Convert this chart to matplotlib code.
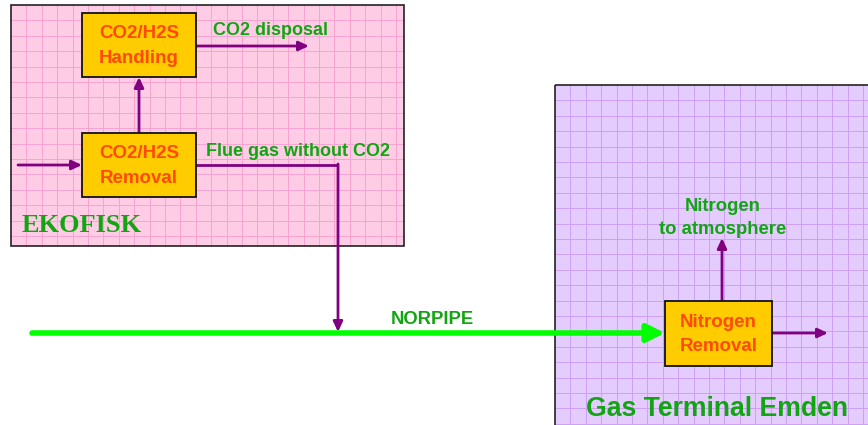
import matplotlib
matplotlib.use("Agg")
from matplotlib import pyplot as plt
from matplotlib.patches import Rectangle
import numpy as np

# texts of the flow sheet
box_labels = ["CO2/H2S\nHandling", "CO2/H2S\nRemoval", "Nitrogen\nRemoval"]
flow_labels = ["CO2 disposal", "Flue gas without CO2", "Nitrogen\nto atmosphere", "NORPIPE"]
site_labels = ["EKOFISK", "Gas Terminal Emden"]

purple = "#800080"
green_txt = "#11A611"
orange_txt = "#FF4A00"
box_fill = "#FFCC00"

fig = plt.figure(figsize=(8.68, 4.25), dpi=100)
ax = fig.add_axes([0, 0, 1, 1])
ax.set_xlim(0, 868)
ax.set_ylim(425, 0)
ax.axis("off")


def site(x0, y0, x1, y1, fill, gridc, step=15.4):
    ax.add_patch(Rectangle((x0, y0), x1 - x0, y1 - y0, facecolor=fill,
                           edgecolor="none", zorder=0))
    for gx in np.arange(x0 + step, x1, step):
        ax.plot([gx, gx], [y0, y1], color=gridc, lw=0.7, zorder=1)
    for gy in np.arange(y0 + step, y1, step):
        ax.plot([x0, x1], [gy, gy], color=gridc, lw=0.7, zorder=1)
    ax.add_patch(Rectangle((x0, y0), x1 - x0, y1 - y0, facecolor="none",
                           edgecolor="#222222", lw=1.2, zorder=2))


def box(x0, y0, x1, y1, label):
    ax.add_patch(Rectangle((x0, y0), x1 - x0, y1 - y0, facecolor=box_fill,
                           edgecolor="#111111", lw=1.3, zorder=5))
    ax.text((x0 + x1) / 2, (y0 + y1) / 2 + 1, label, ha="center", va="center",
            color=orange_txt, fontsize=13.5, fontweight="bold",
            family="Liberation Sans", linespacing=1.55, zorder=6)


def arrow(p0, p1, color=purple, lw=2, ms=8):
    ax.annotate("", xy=p1, xytext=p0, zorder=4,
                arrowprops=dict(arrowstyle="-|>,head_length=0.75,head_width=0.35",
                                color=color, lw=lw, mutation_scale=ms,
                                shrinkA=0, shrinkB=0))


# sites
site(11, 5, 404, 246, "#FFCCE6", "#F7A3D2")
site(555, 85, 880, 440, "#E5CCFF", "#CFA0F4")

# boxes
box(82, 13, 196, 77, box_labels[0])
box(82, 133, 196, 197, box_labels[1])
box(665, 301, 772, 366, box_labels[2])

# purple flows
arrow((18, 165), (82, 165))
arrow((139, 133), (139, 77))
arrow((196, 46), (309, 46))
ax.plot([196, 338], [165, 165], color=purple, lw=2, zorder=4, solid_capstyle="butt")
arrow((338, 164), (338, 332))
arrow((722, 301), (722, 238))
arrow((772, 333), (828, 333))

# NORPIPE
ax.annotate("", xy=(665, 333), xytext=(32, 333), zorder=3,
            arrowprops=dict(arrowstyle="-|>,head_length=0.7,head_width=0.35",
                            color="#00FF00", lw=4, mutation_scale=15,
                            shrinkA=0, shrinkB=0))

# labels
kw = dict(color=green_txt, fontweight="bold", family="Liberation Sans", zorder=6)
ax.text(213, 30, flow_labels[0], ha="left", va="center", fontsize=13, **kw)
ax.text(206, 151, flow_labels[1], ha="left", va="center", fontsize=13, **kw)
ax.text(723, 218, flow_labels[2], ha="center", va="center", fontsize=13.3,
        linespacing=1.45, **kw)
ax.text(432, 319, flow_labels[3], ha="center", va="center", fontsize=13.3, **kw)
ax.text(22, 225, site_labels[0], ha="left", va="center", fontsize=19,
        color=green_txt, fontweight="bold", family="Liberation Serif", zorder=6)
ax.text(717, 409, site_labels[1], ha="center", va="center", fontsize=19.2, **kw)

fig.savefig("out.png", dpi=100)
